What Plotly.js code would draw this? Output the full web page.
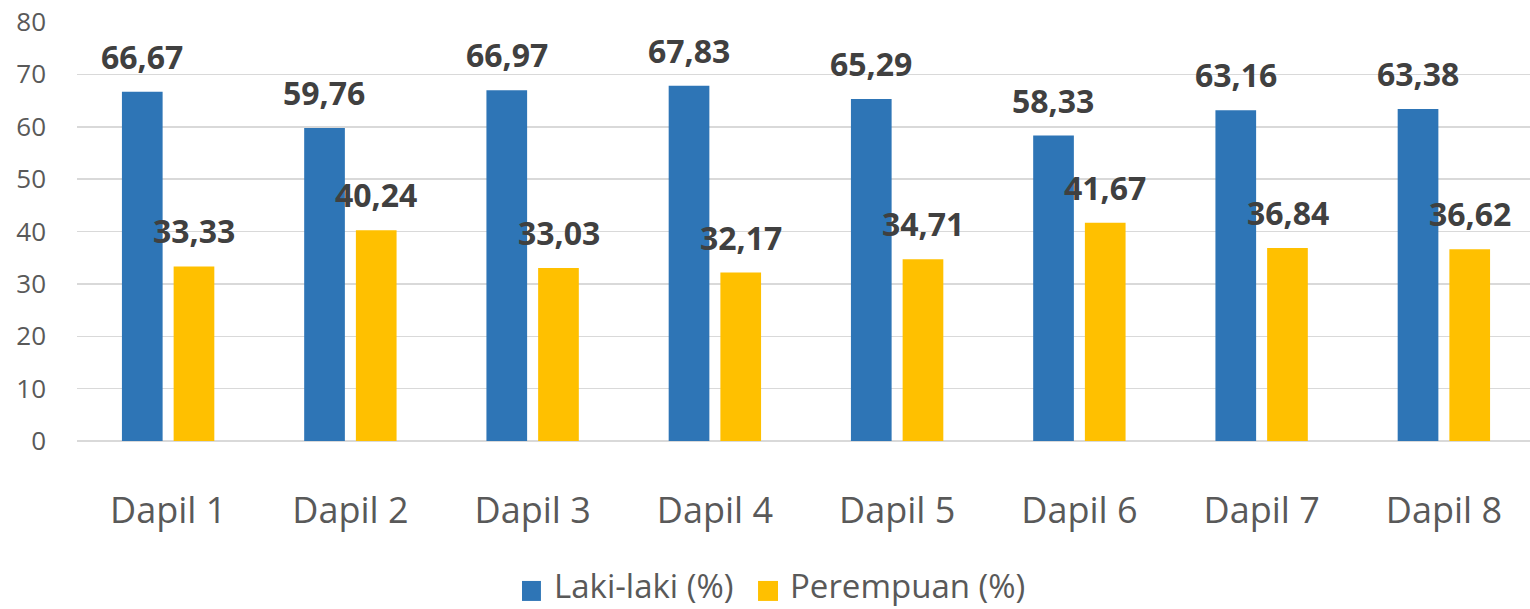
<!DOCTYPE html>
<html>
<head>
<meta charset="utf-8">
<script src="https://cdn.plot.ly/plotly-3.0.1.min.js"></script>
<style>
html,body{margin:0;padding:0;overflow:hidden;background:#fff;}
#chart{width:1536px;height:609px;}
</style>
</head>
<body>
<div id="chart"></div>
<script>
const categories = ["Dapil 1","Dapil 2","Dapil 3","Dapil 4","Dapil 5","Dapil 6","Dapil 7","Dapil 8"];
const seriesNames = ["Laki-laki (%)","Perempuan (%)"];
const lakiLaki = [66.67,59.76,66.97,67.83,65.29,58.33,63.16,63.38];
const perempuan = [33.33,40.24,33.03,32.17,34.71,41.67,36.84,36.62];
const yTicks = [0,10,20,30,40,50,60,70,80];

const colors = ["#2E75B6","#FFC000"];
const fmt = v => v.toFixed(2).replace('.', ',');

const traces = [
  {type:'bar', name:seriesNames[0], x:categories, y:lakiLaki, marker:{color:colors[0]}, hoverinfo:'x+y', showlegend:false},
  {type:'bar', name:seriesNames[1], x:categories, y:perempuan, marker:{color:colors[1]}, hoverinfo:'x+y', showlegend:false}
];

const annotations = [];
[lakiLaki, perempuan].forEach((arr, si) => {
  arr.forEach((v, i) => {
    annotations.push({
      x: categories[i], y: v, xref:'x', yref:'y',
      text: fmt(v), showarrow:false,
      xanchor:'center', yanchor:'bottom',
      xshift: si === 0 ? -26 : 26, yshift: 12,
      font:{family:'Open Sans', size:32, color:'#404040', weight:700}
    });
  });
});

// custom legend (paper coordinates)
const legendPos = [
  {sx0:0.3052, sx1:0.3182, tx:0.3258},
  {sx0:0.4671, sx1:0.4808, tx:0.4877}
];
const shapes = [];
seriesNames.forEach((n, i) => {
  const p = legendPos[i];
  shapes.push({type:'rect', xref:'paper', yref:'paper', x0:p.sx0, x1:p.sx1, y0:-0.3340, y1:-0.3817,
    fillcolor:colors[i], line:{width:0}});
  annotations.push({xref:'paper', yref:'paper', x:p.tx, y:-0.3440, xanchor:'left', yanchor:'middle',
    text:n, showarrow:false, font:{family:'Open Sans', size:33, color:'#595959'}});
});

const layout = {
  width:1536, height:609,
  margin:{l:77, r:1, t:22, b:168, autoexpand:false},
  paper_bgcolor:'#fff', plot_bgcolor:'#fff',
  barmode:'group', bargap:0.4326, bargroupgap:0.213,
  separators:',.',
  font:{family:'Open Sans', color:'#595959'},
  xaxis:{
    type:'category', showgrid:false, zeroline:false, showline:false, automargin:false,
    ticks:'', tickfont:{family:'Open Sans', size:36, color:'#595959'},
    ticklabelstandoff:45
  },
  yaxis:{
    range:[0,80], tickvals:yTicks, ticktext:yTicks.map(String), automargin:false,
    showgrid:true, gridcolor:'#d9d9d9', gridwidth:1.5,
    zeroline:true, zerolinecolor:'#d9d9d9', zerolinewidth:1.5,
    showline:false, ticks:'',
    tickfont:{family:'Open Sans', size:26, color:'#595959'},
    ticklabelstandoff:30
  },
  showlegend:false,
  shapes: shapes,
  annotations: annotations
};

Plotly.newPlot('chart', traces, layout, {displayModeBar:false, staticPlot:true});
</script>
</body>
</html>
